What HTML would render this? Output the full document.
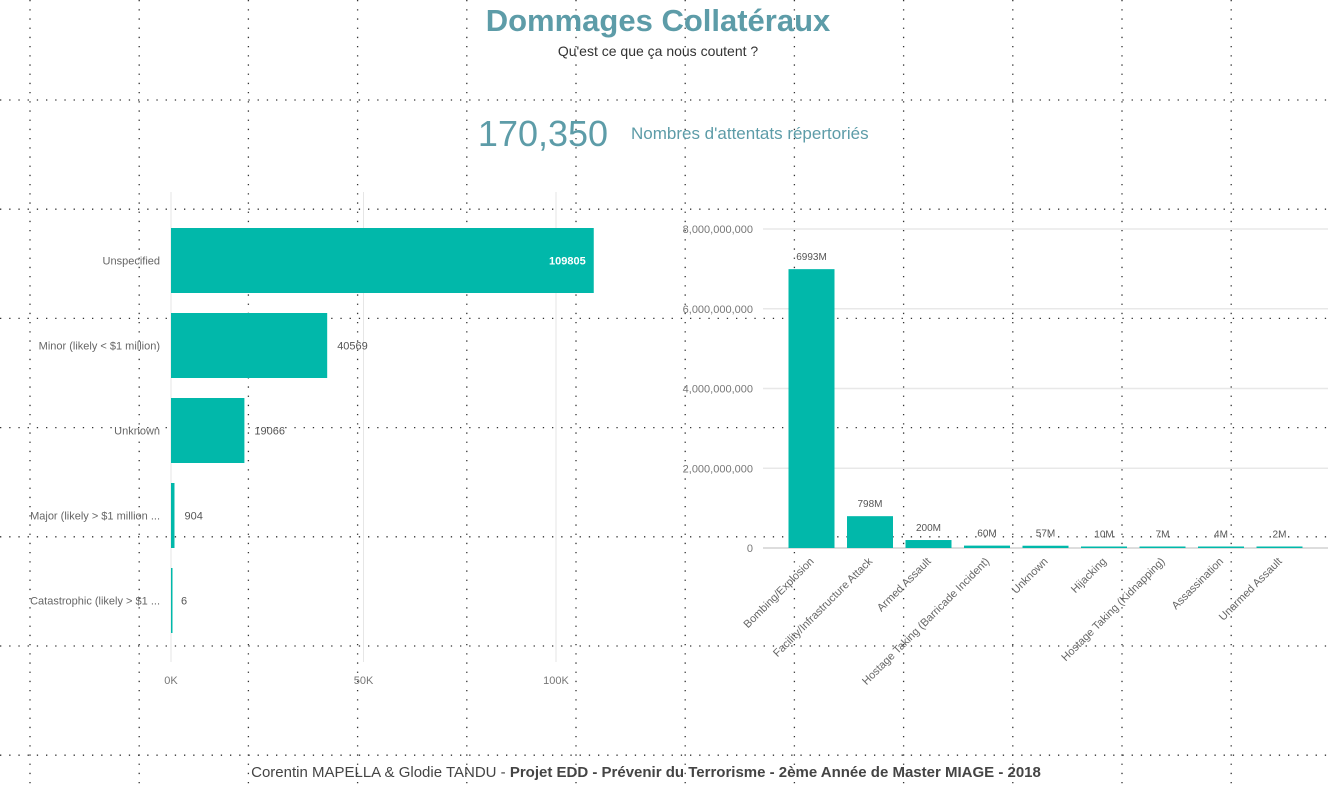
<!DOCTYPE html>
<html><head><meta charset="utf-8"><style>
body{margin:0;width:1332px;height:789px;background:#fff;overflow:hidden;font-family:"Liberation Sans",sans-serif;}
svg{position:absolute;left:0;top:0}
</style></head><body>
<svg id="s" width="1332" height="789">
<g id="grid"></g>
<text x="658" y="31" text-anchor="middle" font-size="31" font-weight="bold" fill="#5d9ca8">Dommages Collatéraux</text>
<text x="658" y="56" text-anchor="middle" font-size="14" fill="#333">Qu'est ce que ça nous coutent ?</text>
<text x="543" y="146" text-anchor="middle" font-size="36" fill="#5d9ca8">170,350</text>
<text x="631" y="139" font-size="17" fill="#5d9ca8">Nombres d'attentats répertoriés</text>
<g id="left"></g>
<g id="right"></g>
<text x="646" y="777" text-anchor="middle" font-size="15" fill="#444">Corentin MAPELLA &amp; Glodie TANDU - <tspan font-weight="bold">Projet EDD - Prévenir du Terrorisme - 2ème Année de Master MIAGE - 2018</tspan></text>
</svg>
<script>
const leftCats=["Unspecified","Minor (likely < $1 million)","Unknown","Major (likely > $1 million ...","Catastrophic (likely > $1 ..."];
const leftVals=[109805,40569,19066,904,6];
const leftTicks=[0,50000,100000];
const leftTickLabels=["0K","50K","100K"];
const rightCats=["Bombing/Explosion","Facility/Infrastructure Attack","Armed Assault","Hostage Taking (Barricade Incident)","Unknown","Hijacking","Hostage Taking (Kidnapping)","Assassination","Unarmed Assault"];
const rightVals=[6993,798,200,60,57,10,7,4,2];
const rightTicks=[0,2000,4000,6000,8000];
const rightTickLabels=["0","2,000,000,000","4,000,000,000","6,000,000,000","8,000,000,000"];
const NS="http://www.w3.org/2000/svg";
function mk(p,t,a){const e=document.createElementNS(NS,t);for(const k in a)e.setAttribute(k,a[k]);p.appendChild(e);return e;}
const grid=document.getElementById('grid');
for(let x=30;x<1332;x+=109.2){const l=mk(grid,'line',{x1:x,y1:0,x2:x,y2:789,stroke:'#333','stroke-width':1.3,'stroke-dasharray':'1.3 7.9'});}
for(let y=100;y<789;y+=109.2){const l=mk(grid,'line',{x1:0,y1:y,x2:1332,y2:y,stroke:'#333','stroke-width':1.3,'stroke-dasharray':'1.3 7.9'});}
// left chart
const L=document.getElementById('left');
const lx=v=>171+v*(556-171)/100000;
const ly=i=>260.5+i*85;
leftTicks.forEach((t,i)=>{const g=mk(L,'line',{x1:lx(t),y1:192,x2:lx(t),y2:662,stroke:'#e6e6e6'});
const tx=mk(L,'text',{x:lx(t),y:684,'text-anchor':'middle','font-size':11,fill:'#777'});tx.textContent=leftTickLabels[i];});
leftCats.forEach((c,i)=>{const y=ly(i);
const r=mk(L,'rect',{x:lx(0),y:y-32.5,width:Math.max(lx(leftVals[i])-lx(0),1.5),height:65,fill:'#01B8AA'});
const t=mk(L,'text',{x:160,y:y+4,'text-anchor':'end','font-size':11,fill:'#666'});t.textContent=c;
const inside=leftVals[i]>80000;
const v=mk(L,'text',{x:inside?lx(leftVals[i])-8:lx(leftVals[i])+10,y:y+4,'text-anchor':inside?'end':'start','font-size':11,fill:inside?'#fff':'#555','font-weight':inside?'bold':'normal'});v.textContent=leftVals[i];});
// right chart
const R=document.getElementById('right');
const ry=v=>548-v*(548-229)/8000;
const rx=i=>811.5+i*58.5;
rightTicks.forEach((t,i)=>{const g=mk(R,'line',{x1:763,y1:ry(t),x2:1328,y2:ry(t),stroke:t===0?'#ddd':'#e8e8e8','stroke-width':t===0?2:1.5});
const tx=mk(R,'text',{x:753,y:ry(t)+4,'text-anchor':'end','font-size':11,fill:'#777'});tx.textContent=rightTickLabels[i];});
rightCats.forEach((c,i)=>{const x=rx(i);const top=Math.min(ry(rightVals[i]),546.5);
const r=mk(R,'rect',{x:x-23,y:top,width:46,height:548-top,fill:'#01B8AA'});
const v=mk(R,'text',{x:x,y:top-9,'text-anchor':'middle','font-size':10,fill:'#555'});v.textContent=rightVals[i]+'M';
const t=mk(R,'text',{x:0,y:0,'text-anchor':'end','font-size':11,fill:'#666',transform:`translate(${x+3},${562}) rotate(-45)`});t.textContent=c;});
</script>
</body></html>
